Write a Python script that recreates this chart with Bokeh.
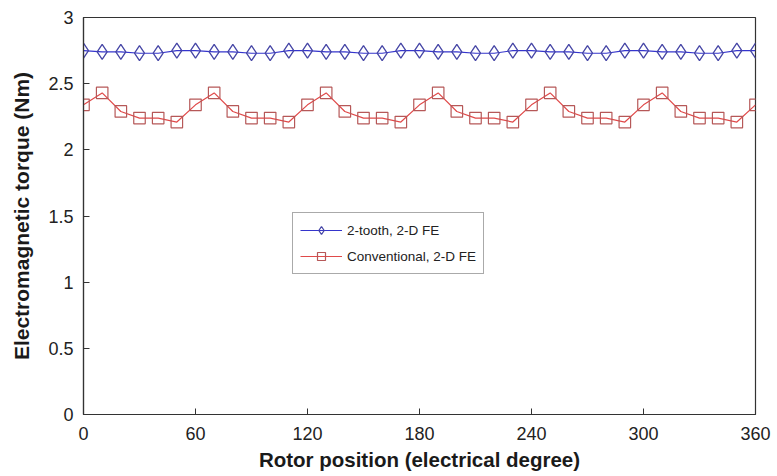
from bokeh.plotting import figure
from bokeh.models import FixedTicker, Legend, LegendItem
from bokeh.embed import file_html
from bokeh.resources import INLINE

# Rotor position in electrical degrees
rotor_position = [0, 10, 20, 30, 40, 50, 60, 70, 80, 90, 100, 110, 120,
                  130, 140, 150, 160, 170, 180, 190, 200, 210, 220, 230, 240,
                  250, 260, 270, 280, 290, 300, 310, 320, 330, 340, 350, 360]

# Electromagnetic torque (Nm), 2-tooth machine, 2-D FE
torque_two_tooth = [2.75, 2.74, 2.74, 2.73, 2.73, 2.75,
                    2.75, 2.74, 2.74, 2.73, 2.73, 2.75,
                    2.75, 2.74, 2.74, 2.73, 2.73, 2.75,
                    2.75, 2.74, 2.74, 2.73, 2.73, 2.75,
                    2.75, 2.74, 2.74, 2.73, 2.73, 2.75,
                    2.75, 2.74, 2.74, 2.73, 2.73, 2.75,
                    2.75]

# Electromagnetic torque (Nm), conventional machine, 2-D FE
torque_conventional = [2.34, 2.43, 2.29, 2.24, 2.24, 2.21,
                       2.34, 2.43, 2.29, 2.24, 2.24, 2.21,
                       2.34, 2.43, 2.29, 2.24, 2.24, 2.21,
                       2.34, 2.43, 2.29, 2.24, 2.24, 2.21,
                       2.34, 2.43, 2.29, 2.24, 2.24, 2.21,
                       2.34, 2.43, 2.29, 2.24, 2.24, 2.21,
                       2.34]

x_ticks = [0, 60, 120, 180, 240, 300, 360]
y_ticks = [0, 0.5, 1, 1.5, 2, 2.5, 3]
y_tick_labels = {0: "0", 0.5: "0.5", 1: "1", 1.5: "1.5", 2: "2", 2.5: "2.5", 3: "3"}

FONT = "Liberation Sans, Arial, sans-serif"

p = figure(width=777, height=476, output_backend="svg", toolbar_location=None,
           x_range=(0, 360), y_range=(0, 3),
           min_border_left=83, min_border_right=22,
           min_border_top=17, min_border_bottom=62)

p.background_fill_color = "white"
p.border_fill_color = "white"
p.outline_line_color = "#333333"
p.outline_line_width = 1.2
p.grid.visible = False

blue_line = p.line(rotor_position, torque_two_tooth, line_color="#3535cc", line_width=1.2)
blue_mark = p.scatter(rotor_position, torque_two_tooth, marker="diamond",
                      size=15, fill_color=None, line_color="#4646a6", line_width=1.3)

red_line = p.line(rotor_position, torque_conventional, line_color="#e04a4a", line_width=1.2)
red_mark = p.scatter(rotor_position, torque_conventional, marker="square",
                     size=11.5, fill_color=None, line_color="#b65858", line_width=1.2)

for ax in (p.xaxis[0], p.yaxis[0]):
    ax.axis_line_color = "#333333"
    ax.axis_line_width = 1.2
    ax.major_tick_line_color = "#333333"
    ax.major_tick_in = 6
    ax.major_tick_out = 0
    ax.minor_tick_line_color = None
    ax.major_label_text_font = FONT
    ax.major_label_text_font_size = "18px"
    ax.major_label_text_color = "#222222"
    ax.axis_label_text_font = FONT
    ax.axis_label_text_font_style = "bold"
    ax.axis_label_text_color = "#1a1a1a"

p.xaxis.ticker = FixedTicker(ticks=x_ticks)
p.xaxis.major_label_standoff = 12
p.xaxis.axis_label = "Rotor position (electrical degree)"
p.xaxis.axis_label_text_font_size = "20.5px"
p.xaxis.axis_label_standoff = 5

p.yaxis.ticker = FixedTicker(ticks=y_ticks)
p.yaxis.major_label_overrides = y_tick_labels
p.yaxis.major_label_standoff = 10
p.yaxis.axis_label = "Electromagnetic torque (Nm)"
p.yaxis.axis_label_text_font_size = "21px"
p.yaxis.axis_label_standoff = 12

legend = Legend(items=[
    LegendItem(label="2-tooth, 2-D FE", renderers=[blue_line, blue_mark]),
    LegendItem(label="Conventional, 2-D FE", renderers=[red_line, red_mark]),
], location=(209, 140))
legend.label_text_font = FONT
legend.label_text_font_size = "13.5px"
legend.label_text_color = "#222222"
legend.glyph_width = 42
legend.glyph_height = 20
legend.label_height = 20
legend.label_standoff = 5
legend.spacing = 6
legend.padding = 7
legend.margin = 0
legend.border_line_color = "#555555"
legend.border_line_width = 1
legend.background_fill_color = "white"
legend.background_fill_alpha = 1.0
p.add_layout(legend)

open("out.html", "w").write(file_html(p, INLINE))
